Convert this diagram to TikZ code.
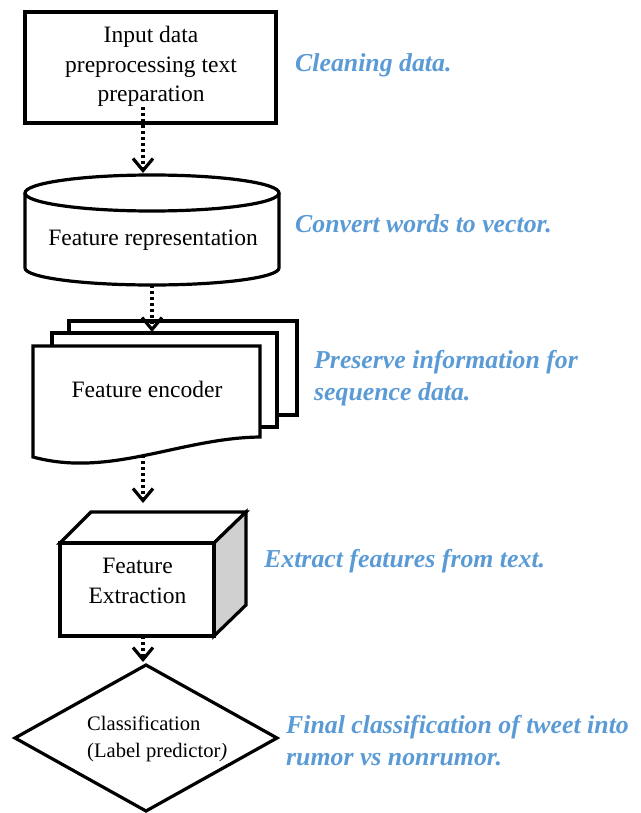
\documentclass[tikz,border=0pt]{standalone}
\usepackage{fontspec}
\setmainfont{Liberation Serif}
\usetikzlibrary{arrows.meta}
\definecolor{notecol}{HTML}{5B9BD5}
\definecolor{sidecol}{HTML}{D0D0D0}
\begin{document}
\begin{tikzpicture}[x=1pt,y=1pt,
  shapeline/.style={line width=3.2pt, draw=black, fill=white, line join=miter},
  lbl/.style={font=\fontsize{23.5}{29.5}\selectfont, align=center, inner sep=0pt},
  note/.style={font=\fontsize{25.8}{32}\selectfont\bfseries\itshape, text=notecol, align=left, anchor=base west, inner sep=0pt},
  flow/.style={line width=3.2pt, dash pattern=on 3pt off 3pt, -{Straight Barb[length=12pt,width=20pt]}},
  anchorbox/.style={inner sep=0pt, outer sep=0pt}]
\useasboundingbox (0,0) rectangle (640,-813);

% input box
\node[shapeline, anchorbox, minimum width=251pt, minimum height=111pt] (b1) at (150.5,-67.5) {};
\node[lbl, anchor=base] (b1t) at (151,-102) {Input data\\preprocessing text\\preparation};

% cylinder
\draw[shapeline] (25,-193) -- (25,-268) arc[start angle=180, end angle=360, x radius=127, y radius=17] -- (279,-193);
\draw[shapeline] (152,-193) ellipse[x radius=127, y radius=18];
\node[anchorbox, minimum width=254pt, minimum height=110pt] (cyl) at (152,-230) {};
\node[lbl, anchor=base] (cylt) at (153,-245) {Feature representation};

% stacked documents
\draw[shapeline] (69,-321) rectangle (297,-415);
\draw[shapeline] (52,-333) rectangle (277,-427);
\draw[shapeline] (33,-346) -- (260,-346) -- (260,-437) .. controls (180,-438) and (110,-478) .. (33,-457) -- cycle;
\node[anchorbox, minimum width=264pt, minimum height=141pt] (docs) at (165,-391.5) {};
\node[lbl, anchor=base] (enct) at (147,-397) {Feature encoder};

% cube
\draw[shapeline] (60,-543) -- (91,-512) -- (246,-512) -- (214,-543) -- cycle;
\draw[shapeline, fill=sidecol] (214,-543) -- (246,-512) -- (246,-605) -- (214,-636) -- cycle;
\draw[shapeline] (60,-543) rectangle (214,-636);
\node[anchorbox, minimum width=186pt, minimum height=124pt] (cube) at (153,-574) {};
\node[lbl, anchor=base] (cubet) at (137.5,-603) {Feature\\Extraction};

% diamond
\node[anchorbox, minimum width=262pt, minimum height=146pt] (cls) at (146,-738) {};
\draw[shapeline] (cls.north) -- (cls.east) -- (cls.south) -- (cls.west) -- cycle;
\node[lbl, font=\fontsize{20.6}{27}\selectfont, align=left, anchor=base west] (clst) at (87,-757) {Classification\\(Label predictor\textit{)}};

% connectors
\draw[flow] ([xshift=-7.5pt,yshift=16pt]b1.south) -- ([xshift=-9pt,yshift=2pt]cyl.north);
\draw[flow] (cyl.south) -- ([xshift=-13pt,yshift=-11pt]docs.north);
\draw[flow] ([xshift=-22pt,yshift=7pt]docs.south) -- ([xshift=-10pt,yshift=9pt]cube.north);
\draw[flow] ([xshift=-10pt]cube.south) -- ([xshift=-3pt,yshift=3pt]cls.north);

% notes
\node[note] (n1) at (295,-72) {Cleaning data.};
\node[note] (n2) at (295,-232) {Convert words to vector.};
\node[note] (n3) at (314,-400) {Preserve information for\\sequence data.};
\node[note] (n4) at (264,-567) {Extract features from text.};
\node[note] (n5) at (286,-765) {Final classification of tweet into\\rumor vs nonrumor.};
\end{tikzpicture}
\end{document}
